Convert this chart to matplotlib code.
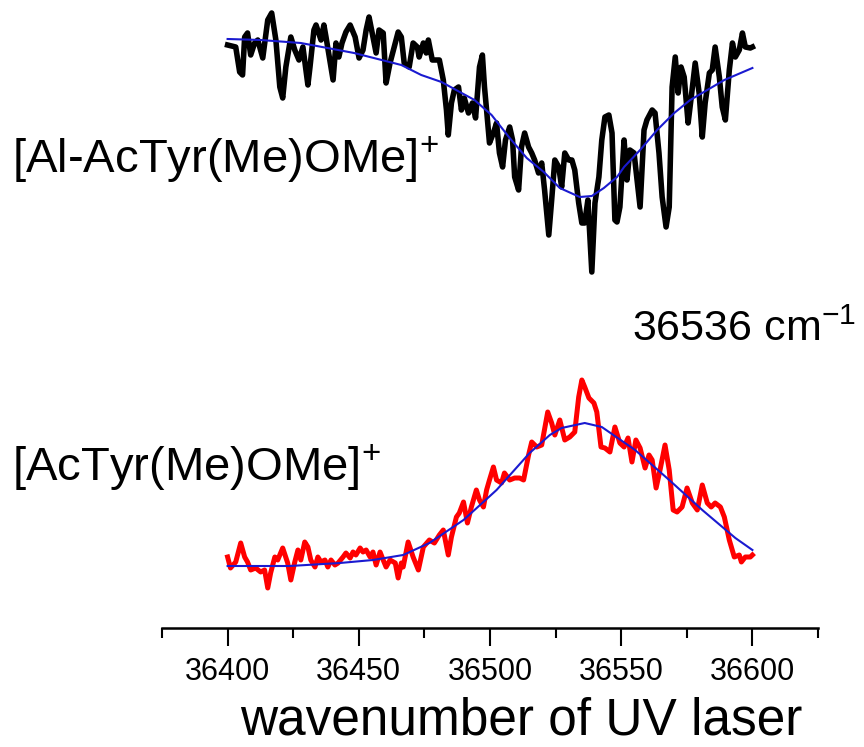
import matplotlib
matplotlib.use("Agg")
import matplotlib.pyplot as plt
from matplotlib.ticker import MultipleLocator

plt.rcParams['font.family'] = ['Liberation Sans', 'DejaVu Sans']
plt.rcParams['mathtext.fontset'] = 'custom'
plt.rcParams['mathtext.rm'] = 'Liberation Sans'

# ---- data: wavenumber offsets from 36400 cm^-1 and signal (a.u.) ----
WN0 = 36400

black_dx = [0.0, 3.1, 4.6, 5.7, 6.5, 7.6, 8.8, 10.3, 11.5, 13.4, 15.3, 16.8, 18.4, 19.9, 21.0,
            22.2, 24.1, 25.6, 27.2, 28.7, 30.6, 31.4, 32.9, 33.7, 35.6, 36.7, 37.5, 40.2, 41.3,
            42.4, 43.6, 45.1, 46.7, 48.6, 50.1, 51.6, 52.8, 53.9, 55.4, 56.6, 57.7, 59.3, 60.4,
            61.9, 63.5, 65.0, 66.2, 67.3, 69.2, 70.7, 72.3, 73.0, 74.6, 75.7, 76.5, 78.0, 79.5,
            80.7, 82.2, 83.4, 84.1, 85.3, 86.4, 88.0, 89.1, 90.2, 91.8, 93.3, 94.5, 96.0, 97.1,
            97.9, 98.7, 99.8, 101.3, 102.5, 103.6, 104.8, 105.9, 107.5, 108.6, 109.4, 110.9,
            112.0, 113.2, 114.7, 115.9, 117.0, 118.5, 119.7, 120.8, 122.4, 123.5, 124.7, 126.2,
            127.3, 128.5, 130.0, 131.2, 132.3, 133.8, 135.0, 136.1, 137.3, 138.8, 140.0, 141.5,
            142.6, 143.8, 145.3, 146.5, 147.6, 148.4, 149.5, 151.1, 152.2, 153.3, 154.9, 157.2,
            158.7, 159.8, 161.8, 162.9, 164.4, 165.6, 167.1, 168.3, 169.4, 170.6, 171.7, 172.8,
            174.0, 175.5, 176.7, 178.2, 179.7, 180.9, 182.0, 183.6, 184.7, 185.8, 187.4, 188.5,
            189.7, 191.2, 192.4, 193.5, 195.0, 196.2, 197.3, 199.2, 200.0]
black_sig = [583, 581, 556, 553, 591, 595, 573, 585, 588, 570, 608, 615, 588, 541, 530,
             561, 591, 578, 568, 581, 543, 561, 598, 603, 588, 603, 591, 548, 585,
             571, 585, 596, 603, 591, 570, 578, 598, 611, 591, 575, 598, 595, 545,
             565, 581, 596, 591, 565, 561, 585, 581, 571, 585, 575, 588, 568, 568,
             568, 548, 518, 493, 525, 538, 541, 518, 530, 515, 525, 510, 561, 573,
             541, 518, 485, 495, 505, 475, 461, 488, 501, 488, 451, 438,
             481, 495, 481, 475, 468, 455, 465, 438, 393, 428, 468, 461,
             441, 475, 468, 468, 458, 425, 405, 405, 428, 356, 425, 451,
             488, 511, 513, 495, 408, 406, 421, 488, 448, 478, 475, 421,
             498, 508, 518, 515, 475, 431, 401, 421, 541, 571, 535, 561,
             551, 505, 531, 565, 535, 491, 525, 555, 558, 581, 551, 521,
             508, 558, 585, 571, 578, 595, 581, 580, 581]

black_fit_dx = [0.0, 12.6, 27.9, 48.2, 66.2, 73.8, 81.5, 94.1, 100.6, 107.5, 114.0, 120.5,
                126.6, 134.2, 138.8, 143.4, 148.4, 151.1, 157.2, 163.7, 170.2, 176.3, 182.8,
                189.3, 200.0]
black_fit_sig = [589, 588, 585, 575, 563, 553, 546, 528, 513, 490, 470, 456,
                 440, 431, 432, 440, 451, 461, 478, 498, 515, 528, 538,
                 548, 560]

red_dx = [0.0, 1.1, 3.1, 5.0, 6.5, 7.6, 8.8, 10.7, 12.6, 14.1, 15.3, 16.4, 18.0, 19.1, 21.0,
          22.9, 24.1, 25.6, 26.8, 27.9, 29.4, 30.6, 31.7, 33.3, 34.4, 35.6, 37.1, 38.2, 39.4,
          40.9, 42.1, 44.0, 45.1, 46.7, 47.8, 48.9, 50.5, 51.6, 52.8, 54.3, 55.4, 56.6, 58.1,
          59.3, 60.4, 61.9, 63.9, 65.0, 66.2, 66.9, 68.8, 70.7, 72.7, 74.6, 76.9, 78.8, 80.7,
          82.2, 84.1, 85.3, 87.2, 88.3, 89.9, 91.4, 92.9, 94.8, 96.0, 97.5, 98.7, 99.8, 101.3,
          102.5, 104.4, 105.5, 107.5, 109.4, 111.3, 112.8, 114.7, 115.9, 117.8, 119.7, 122.0,
          123.5, 124.7, 126.6, 128.5, 130.4, 132.3, 133.8, 135.0, 136.1, 137.7, 139.6, 140.7,
          142.3, 143.8, 145.7, 147.6, 149.5, 151.1, 152.6, 154.1, 155.6, 157.2, 159.1, 160.6,
          161.8, 163.3, 164.8, 166.7, 168.3, 169.8, 171.3, 173.2, 175.1, 177.1, 179.0, 180.9,
          182.8, 184.3, 185.8, 187.8, 189.3, 191.2, 193.1, 195.0, 195.8, 197.3, 199.2, 200.0]
red_sig = [71, 60, 66, 85, 71, 66, 58, 60, 56, 58, 40, 55, 71, 68, 80,
           65, 48, 66, 78, 68, 86, 81, 68, 61, 71, 66, 68, 61, 68,
           63, 65, 71, 75, 70, 76, 73, 80, 76, 78, 71, 76, 63, 76,
           68, 61, 68, 65, 50, 65, 61, 86, 71, 58, 81, 88, 85, 93,
           98, 73, 91, 111, 115, 126, 105, 121, 138, 128, 121, 138, 148, 161,
           148, 145, 155, 148, 150, 150, 148, 173, 186, 181, 183, 216,
           205, 193, 208, 188, 191, 196, 231, 248, 241, 230, 225, 216,
           181, 180, 176, 201, 185, 181, 190, 166, 188, 180, 160, 173,
           168, 140, 158, 183, 158, 118, 116, 121, 140, 125, 118, 143,
           125, 121, 125, 121, 111, 88, 71, 73, 66, 71, 71, 73]

red_fit_dx = [0.0, 23.7, 42.8, 55.4, 66.9, 76.9, 89.9, 102.5, 115.1, 122.8, 127.3, 136.1,
              142.6, 155.3, 168.3, 180.9, 193.5, 200.0]
red_fit_sig = [62, 62, 65, 68, 73, 85, 108, 138, 175, 193, 200, 205,
               201, 178, 148, 118, 90, 78]

xticks = [36400, 36450, 36500, 36550, 36600]
label_top = r'[Al-AcTyr(Me)OMe]$^{+}$'
label_bottom = r'[AcTyr(Me)OMe]$^{+}$'
peak_label = r'36536 cm$^{-1}$'
xlabel = 'wavenumber of UV laser'

# ---- figure ----
W, H = 864, 747
fig = plt.figure(figsize=(W / 100, H / 100), dpi=100)
ax = fig.add_axes([162 / W, (H - 628) / H, (818 - 162) / W, 628 / H])

bx = [WN0 + d for d in black_dx]
bfx = [WN0 + d for d in black_fit_dx]
rx = [WN0 + d for d in red_dx]
rfx = [WN0 + d for d in red_fit_dx]

ax.plot(bx, black_sig, color='black', lw=4.0, solid_joinstyle='round', zorder=2)
ax.plot(bfx, black_fit_sig, color='#1a1ad0', lw=1.5, zorder=3)
ax.plot(rx, red_sig, color='#ff0000', lw=3.6, solid_joinstyle='round', zorder=2)
ax.plot(rfx, red_fit_sig, color='#1a1ad0', lw=1.5, zorder=3)

ax.set_xlim(36375, 36625)
ax.set_ylim(0, 628)
ax.set_xticks(xticks)
ax.xaxis.set_minor_locator(MultipleLocator(25))
ax.set_yticks([])
for s in ['top', 'right', 'left']:
    ax.spines[s].set_visible(False)
ax.spines['bottom'].set_linewidth(1.8)
ax.tick_params(axis='x', which='major', length=13, width=1.5, labelsize=22, pad=8)
ax.tick_params(axis='x', which='minor', length=7, width=1.5)

fig.text(521 / W, 1 - 721 / H, xlabel, fontsize=37, ha='center', va='center')
fig.text(12 / W, 1 - 160 / H, label_top, fontsize=34, ha='left', va='center')
fig.text(12 / W, 1 - 468 / H, label_bottom, fontsize=34, ha='left', va='center')
fig.text(856 / W, 1 - 330 / H, peak_label, fontsize=31, ha='right', va='center')

fig.savefig('out.png', dpi=100)
